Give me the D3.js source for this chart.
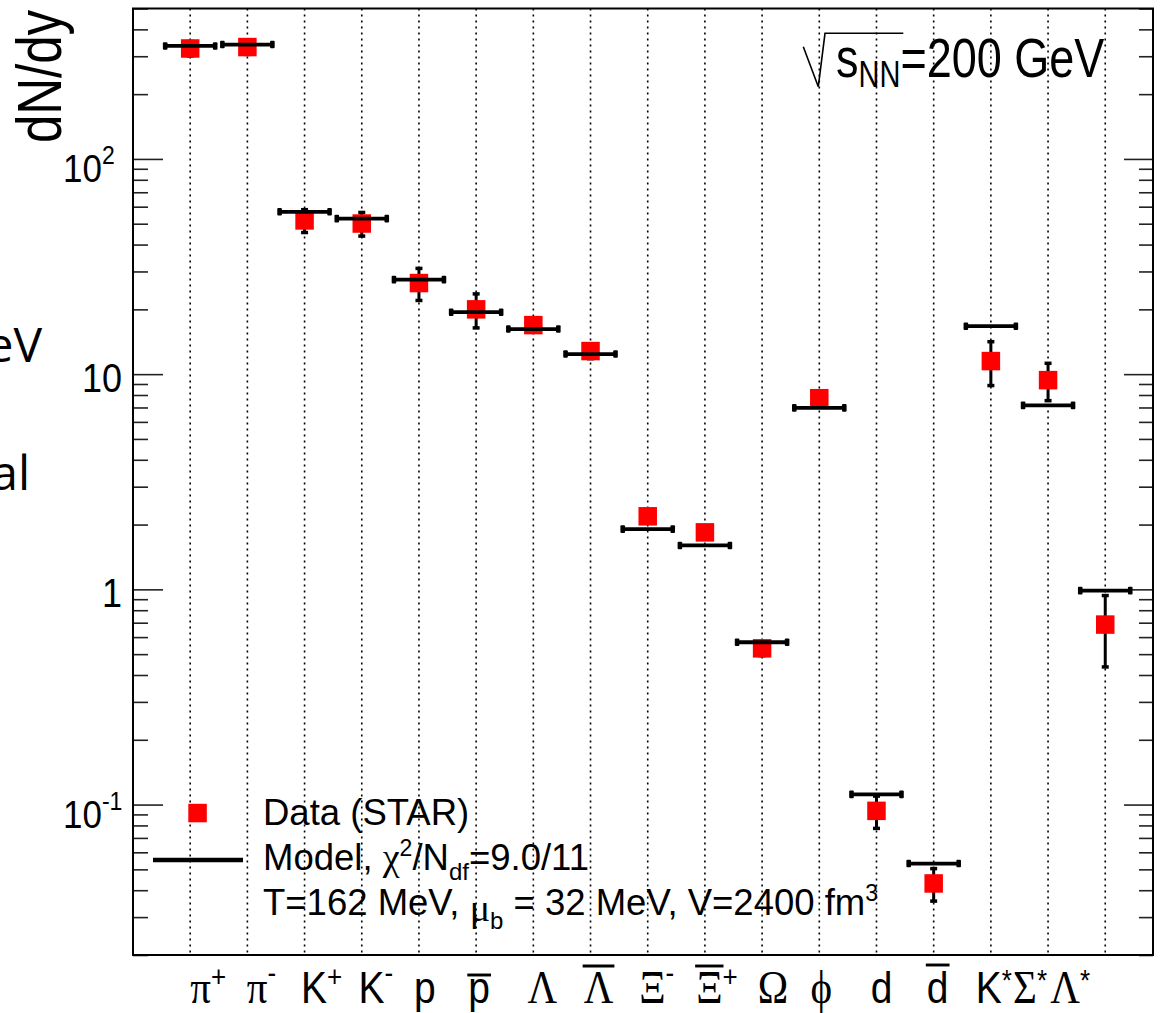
<!DOCTYPE html>
<html><head><meta charset="utf-8">
<script src="https://cdn.jsdelivr.net/npm/d3@7"></script>
<style>html,body{margin:0;padding:0;background:#fff;} svg{display:block;}</style>
</head><body>
<svg id="chart" width="1163" height="1013"></svg>
<script>
// ---------------- data ----------------
const categories   = ["π+","π-","K+","K-","p","p\u0304","Λ","Λ\u0304","Ξ-","Ξ\u0304+","Ω","ϕ","d","d\u0304","K*","Σ*","Λ*"];
const dataValues   = [326, 331, 51.8, 50.1, 26.5, 20.0, 16.9, 12.8, 2.185, 1.84, 0.532, 7.73, 0.0935, 0.043, 11.5, 9.38, 0.686];
const dataErrors   = [25, 25, 6.3, 6.3, 4.5, 3.6, 1.2, 1.0, 0.15, 0.13, 0.04, 0.5, 0.016, 0.0074, 2.65, 1.85, 0.25];
const modelValues  = [335, 340, 56.8, 52.8, 27.5, 19.4, 16.2, 12.4, 1.905, 1.60, 0.568, 6.97, 0.1115, 0.0532, 16.7, 7.16, 0.987];
const yTickValues  = [100, 10, 1, 0.1];
const yTickLabels  = ["10^2", "10", "1", "10^-1"];
const legendTexts  = ["Data (STAR)", "Model, χ^2/N_df=9.0/11", "T=162 MeV, μ_b = 32 MeV, V=2400 fm^3"];
const energyLabel  = "√s_NN=200 GeV";
const yTitle       = "dN/dy";

// ---------------- layout ----------------
const frame = {left: 133, right: 1153, top: 8.5, bottom: 955};
const labelDx = [18, 14, 17, 14, 6, 3, 9, 8, 9, 12, 11, 2, 5, 4, 3, -18, -35];
const svg = d3.select("#chart");
const SANS = "'Liberation Sans', Arial, Helvetica, sans-serif";
const SERIF = "'Liberation Serif', 'Times New Roman', serif";

const x = d3.scaleLinear().domain([0, 17.835]).range([frame.left, frame.right]);
const y = d3.scaleLog().domain([0.02, 500]).range([frame.bottom, frame.top]);

// dotted category lines
svg.append("g").selectAll("line").data(categories).join("line")
  .attr("x1", (d, i) => x(i + 1)).attr("x2", (d, i) => x(i + 1))
  .attr("y1", frame.top).attr("y2", frame.bottom)
  .attr("stroke", "#000").attr("stroke-width", 1.6).attr("stroke-dasharray", "2,4");

// minor tick values
const minorTicks = [];
for (let e = -2; e <= 2; e++) for (let k = 2; k <= 9; k++) {
  const v = k * Math.pow(10, e);
  if (v >= 0.02 && v <= 500) minorTicks.push(v);
}
function styleAxis(g) {
  g.select(".domain").remove();
  g.selectAll(".tick line").attr("stroke", "#222").attr("stroke-width", 1.6);
  g.selectAll(".tick text").remove();
}
svg.append("g").attr("transform", `translate(${frame.left},0)`)
  .call(d3.axisRight(y).tickValues(yTickValues).tickSize(30).tickFormat("")).call(styleAxis);
svg.append("g").attr("transform", `translate(${frame.left},0)`)
  .call(d3.axisRight(y).tickValues(minorTicks).tickSize(15).tickFormat("")).call(styleAxis);
svg.append("g").attr("transform", `translate(${frame.right},0)`)
  .call(d3.axisLeft(y).tickValues(yTickValues).tickSize(29).tickFormat("")).call(styleAxis);
svg.append("g").attr("transform", `translate(${frame.right},0)`)
  .call(d3.axisLeft(y).tickValues(minorTicks).tickSize(14).tickFormat("")).call(styleAxis);

// y tick labels
yTickLabels.forEach((lab, i) => {
  const yy = y(yTickValues[i]);
  const parts = lab.split("^");
  if (parts.length === 1) {
    svg.append("text").attr("transform", `translate(122,${yy + 18}) scale(1,1.12)`)
      .attr("text-anchor", "end").attr("font-family", SANS).attr("font-size", 36).text(parts[0]);
  } else {
    const t = svg.append("text").attr("transform", `translate(63,${yy + 23}) scale(1,1.12)`)
      .attr("font-family", SANS).attr("font-size", 35);
    t.append("tspan").text(parts[0]);
    t.append("tspan").attr("font-size", 23).attr("dy", -16).text(parts[1]);
  }
});

// data error bars
const dataG = svg.append("g");
categories.forEach((c, i) => {
  const cx = x(i + 1);
  const lo = y(dataValues[i] - dataErrors[i]), hi = y(dataValues[i] + dataErrors[i]);
  dataG.append("line").attr("x1", cx).attr("x2", cx).attr("y1", lo).attr("y2", hi)
    .attr("stroke", "#000").attr("stroke-width", 3);
  [lo, hi].forEach(yy => dataG.append("rect").attr("x", cx - 3.5).attr("y", yy - 1.75)
    .attr("width", 7).attr("height", 3.5).attr("fill", "#000"));
});
// data markers
svg.append("g").selectAll("rect").data(dataValues).join("rect")
  .attr("x", (d, i) => x(i + 1) - 9.25).attr("y", d => y(d) - 9.25)
  .attr("width", 18.5).attr("height", 18.5).attr("fill", "#ff0000");

// model bars
const modelG = svg.append("g");
modelValues.forEach((m, i) => {
  const cx = x(i + 1), yy = y(m);
  modelG.append("line").attr("x1", cx - 24).attr("x2", cx + 24).attr("y1", yy).attr("y2", yy)
    .attr("stroke", "#000").attr("stroke-width", 3.8);
  [cx - 25, cx + 25].forEach(ex => modelG.append("rect").attr("x", ex - 2.3).attr("y", yy - 3.8)
    .attr("width", 4.6).attr("height", 7.6).attr("rx", 1).attr("fill", "#000"));
});

// frame
svg.append("rect").attr("x", frame.left).attr("y", frame.top)
  .attr("width", frame.right - frame.left).attr("height", frame.bottom - frame.top)
  .attr("fill", "none").attr("stroke", "#000").attr("stroke-width", 2);

// x labels
const greek = "πΛΞΩϕφΣ";
const overlineH = {"p": 28, "d": 38, "Λ": 37, "Ξ": 37};
categories.forEach((c, i) => {
  const hasBar = c.includes("\u0304");
  const clean = c.replace("\u0304", "");
  const base = clean[0];
  const sup = clean.length > 1 ? clean.slice(1) : "";
  const cx = x(i + 1) + labelDx[i];
  const g = svg.append("g").attr("transform", `translate(${cx},1003) scale(1,1.12)`);
  const t = g.append("text").attr("font-family", SANS).attr("font-size", 39);
  const bt = t.append("tspan").text(base);
  if (greek.includes(base)) bt.attr("font-family", SERIF).attr("font-size", 41);
  if (sup) {
    const dy = sup === "+" ? -14 : (sup === "-" ? -18 : -12);
    t.append("tspan").attr("font-size", 26).attr("dy", dy).text(sup);
  }
  const total = t.node().getComputedTextLength();
  const baseW = t.node().getSubStringLength(0, 1);
  t.attr("x", -total / 2);
  if (hasBar) {
    const oy = -(overlineH[base] || 36) / 1.12;
    g.append("line").attr("x1", -total / 2 - 1).attr("x2", -total / 2 + baseW + 1)
      .attr("y1", oy).attr("y2", oy).attr("stroke", "#000").attr("stroke-width", 2.6);
  }
});

// y title
svg.append("text").attr("transform", "translate(61,76.5) rotate(-90) scale(1,1.25)")
  .attr("text-anchor", "middle").attr("font-family", SANS).attr("font-size", 51).text(yTitle);

// energy label
(function () {
  const m = energyLabel.match(/^√(\w)_(\w+)(.*)$/);
  svg.append("path").attr("d", "M803.3,46.7 L818.3,86.7 L825,33.3 L903.3,33.3")
    .attr("fill", "none").attr("stroke", "#000").attr("stroke-width", 1.6);
  const t = svg.append("text").attr("transform", "translate(836,77) scale(1,1.25)")
    .attr("font-family", SANS).attr("font-size", 45);
  t.append("tspan").text(m[1]);
  t.append("tspan").attr("font-size", 29).attr("dy", 8).text(m[2]);
  t.append("tspan").attr("dy", -8).text(m[3]);
})();

// legend
svg.append("rect").attr("x", 188.3).attr("y", 803.8).attr("width", 18.5).attr("height", 18.5).attr("fill", "#ff0000");
svg.append("line").attr("x1", 153).attr("x2", 243).attr("y1", 860).attr("y2", 860)
  .attr("stroke", "#000").attr("stroke-width", 4.5);
function richText(str, xPos, yPos) {
  const t = svg.append("text").attr("x", xPos).attr("y", yPos)
    .attr("font-family", SANS).attr("font-size", 36.5);
  const re = /(\^\w+|_\w+|[χμ]|[^\^_χμ]+)/g;
  let tok, shift = 0, afterGreek = false;
  while ((tok = re.exec(str)) !== null) {
    const s = tok[0];
    if (s[0] === "^") {
      t.append("tspan").attr("font-size", 23).attr("dy", -14 - shift).text(s.slice(1));
      shift = -14;
    } else if (s[0] === "_") {
      const d = afterGreek ? 14 : 10;
      t.append("tspan").attr("font-size", 24).attr("dy", d - shift).text(s.slice(1));
      shift = d;
    } else if (s === "χ" || s === "μ") {
      const d = s === "μ" ? 6 : 0;
      t.append("tspan").attr("font-family", SERIF).attr("font-size", 38).attr("dy", d - shift).text(s);
      shift = d; afterGreek = true; continue;
    } else {
      t.append("tspan").attr("dy", -shift).text(s);
      shift = 0;
    }
    afterGreek = false;
  }
}
legendTexts.forEach((s, i) => richText(s, 263, 825 + 45 * i));

// partially visible slide text at the left edge
svg.append("text").attr("x", 42).attr("y", 362).attr("text-anchor", "end")
  .attr("font-family", "'Open Sans', sans-serif").attr("font-size", 48).text("eV");
svg.append("text").attr("x", 30).attr("y", 490).attr("text-anchor", "end")
  .attr("font-family", "'Open Sans', sans-serif").attr("font-size", 48).text("al");
</script>
</body></html>
